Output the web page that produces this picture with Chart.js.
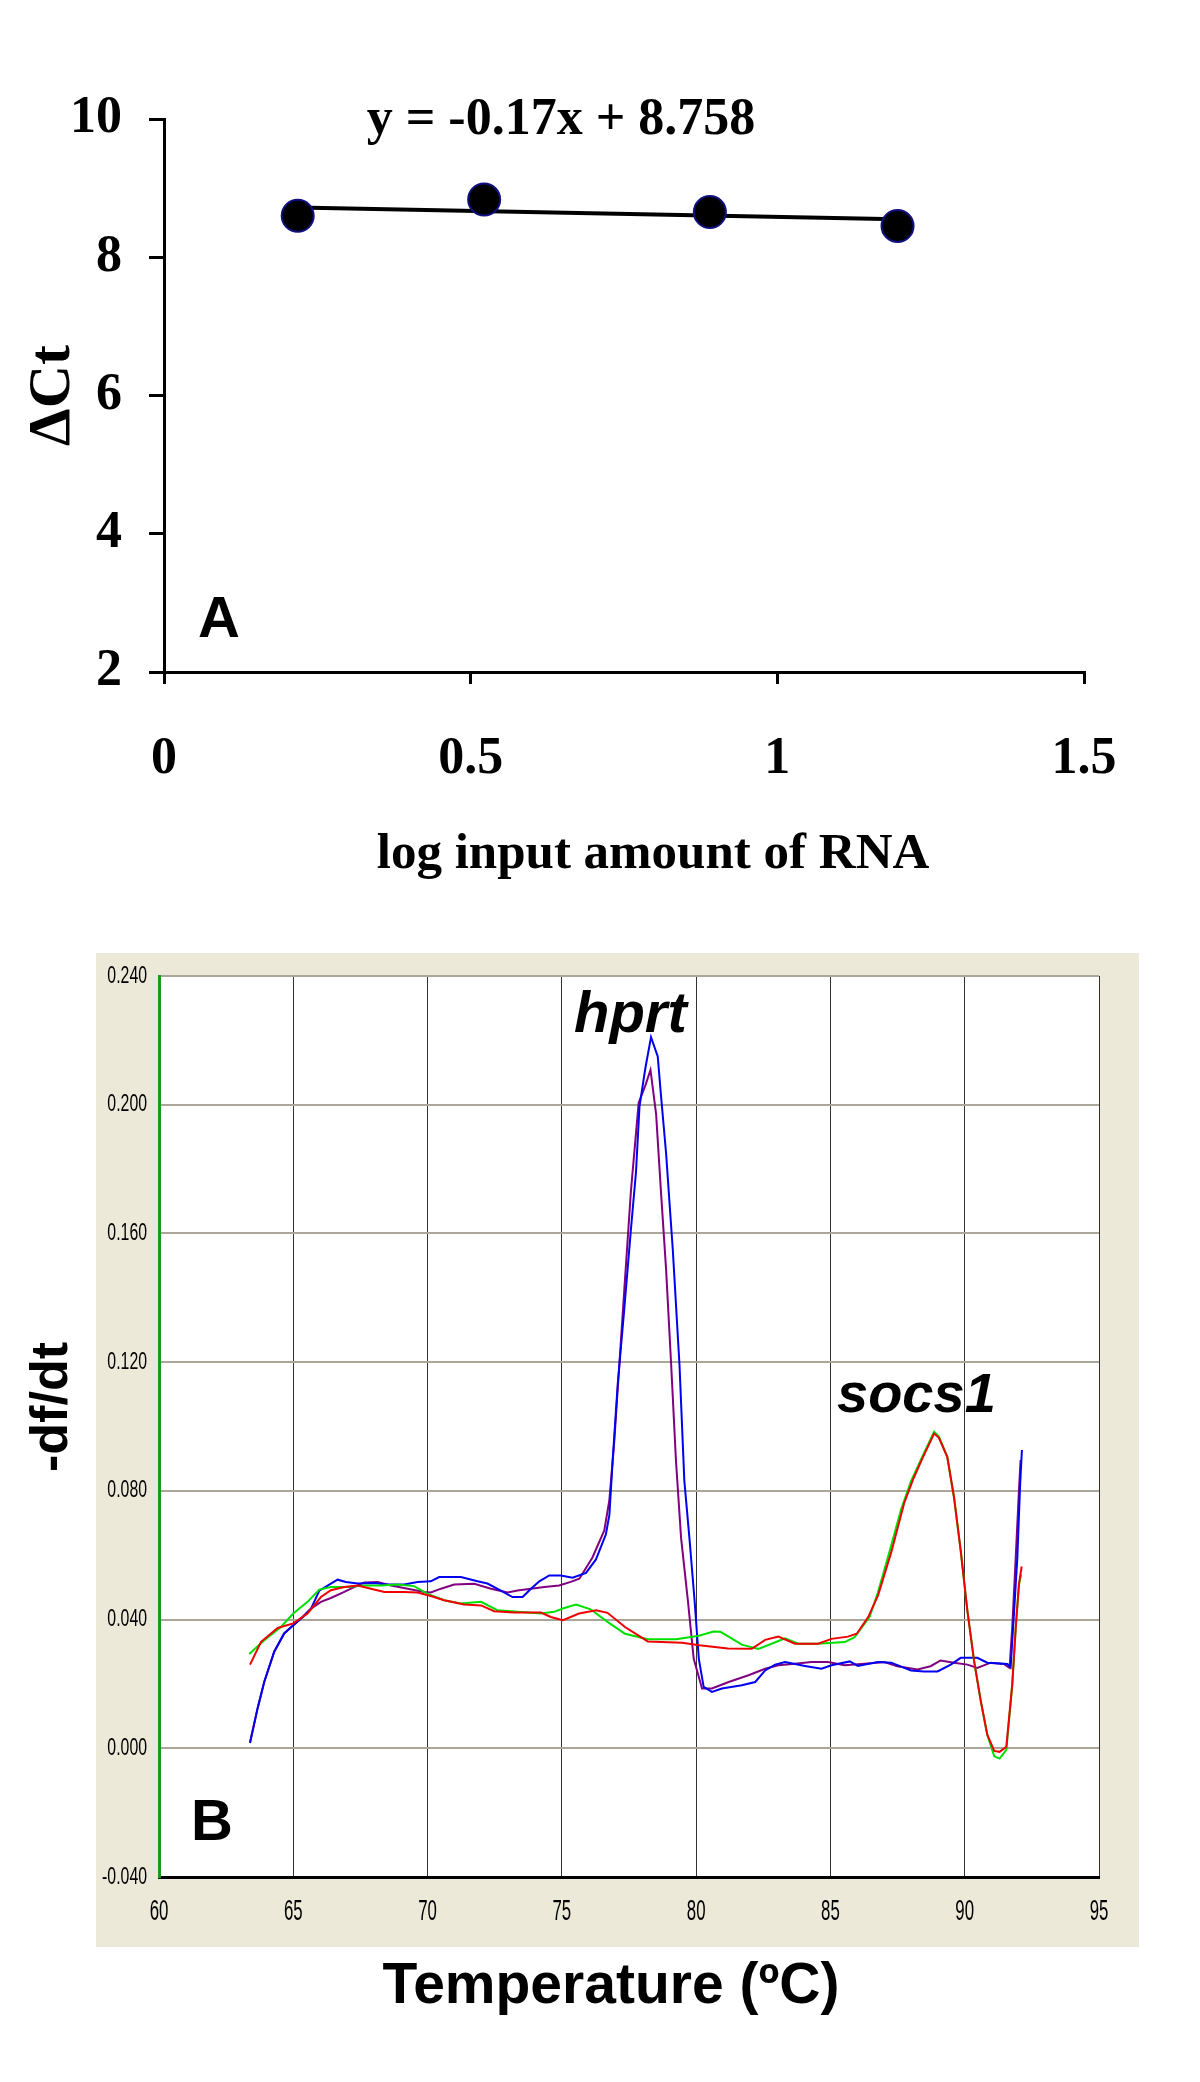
<!DOCTYPE html>
<html>
<head>
<meta charset="utf-8">
<title>ΔCt and melt curves</title>
<script src="https://cdn.jsdelivr.net/npm/chart.js@4.4.1/dist/chart.umd.min.js"></script>
<style>
  body { margin: 0; background: #fff; }
  #wrap { position: relative; width: 1200px; height: 2082px; }
  #chartA { position: absolute; left: 0; top: 0; }
  #chartB { position: absolute; left: 0; top: 940px; }
</style>
</head>
<body>
<div id="wrap">
  <canvas id="chartA" width="1200" height="920"></canvas>
  <canvas id="chartB" width="1200" height="1142"></canvas>
</div>
<script>
// panel A: delta Ct vs log input amount of RNA
const logInput = [0.218, 0.522, 0.890, 1.196];
const deltaCt = [8.60, 8.835, 8.654, 8.452];
const trendX = [0.218, 1.196];
const trendY = [8.72, 8.55];
const equationText = 'y = -0.17x + 8.758';

// panel B: melt curves, [temperature, -df/dt]
const hprtBlue = [
  [63.39, 0.0016], [63.67, 0.0124], [63.92, 0.0207], [64.29, 0.030], [64.66, 0.0357],
  [65.0, 0.0382], [65.35, 0.0408], [65.66, 0.0434], [65.97, 0.049], [66.4, 0.0512],
  [66.65, 0.0524], [66.96, 0.0517], [67.4, 0.0512], [68.0, 0.0514], [68.5, 0.0509],
  [69.13, 0.0509], [69.63, 0.0517], [70.12, 0.0519], [70.43, 0.0532], [71.24, 0.0532],
  [71.86, 0.0519], [72.23, 0.0512], [72.73, 0.049], [73.16, 0.047], [73.54, 0.047],
  [73.85, 0.0496], [74.16, 0.0519], [74.53, 0.0537], [74.96, 0.0537], [75.4, 0.053],
  [75.9, 0.0545], [76.27, 0.0587], [76.64, 0.0665], [76.77, 0.0725], [76.89, 0.0892],
  [77.08, 0.1132], [77.33, 0.1371], [77.57, 0.1611], [77.76, 0.179], [77.89, 0.1994],
  [78.11, 0.2114], [78.32, 0.221], [78.57, 0.215], [78.69, 0.203], [78.88, 0.185],
  [79.13, 0.155], [79.38, 0.1192], [79.56, 0.0832], [79.75, 0.0653], [79.94, 0.0461],
  [80.1, 0.0278], [80.28, 0.0191], [80.59, 0.0175], [80.96, 0.0186], [81.7, 0.0196],
  [82.2, 0.0206], [82.57, 0.0242], [82.94, 0.026], [83.31, 0.0268], [84.05, 0.0256],
  [84.67, 0.0247], [85.04, 0.0258], [85.72, 0.027], [86.02, 0.0256], [86.77, 0.0268],
  [87.26, 0.0266], [88.0, 0.0242], [88.49, 0.0239], [88.99, 0.0239], [89.48, 0.026],
  [89.85, 0.0281], [90.47, 0.0281], [90.84, 0.0266], [91.59, 0.0262], [91.71, 0.0252],
  [91.84, 0.0427], [91.96, 0.0594], [92.06, 0.0813], [92.13, 0.0927]
];
const hprtPurple = [
  [63.39, 0.002], [63.67, 0.0124], [63.92, 0.0207], [64.29, 0.030], [64.66, 0.0357],
  [65.0, 0.0382], [65.35, 0.0408], [65.66, 0.0434], [66.03, 0.0455], [66.4, 0.0467],
  [66.9, 0.0486], [67.4, 0.0506], [67.64, 0.0515], [68.14, 0.0517], [68.64, 0.0506],
  [69.26, 0.0496], [69.88, 0.0486], [70.12, 0.0484], [70.5, 0.0496], [70.99, 0.0509],
  [71.74, 0.0511], [72.36, 0.0496], [72.98, 0.0484], [73.35, 0.049], [73.85, 0.0496],
  [74.35, 0.0501], [74.9, 0.0506], [75.33, 0.0517], [75.65, 0.0527], [76.14, 0.0593],
  [76.58, 0.0677], [76.77, 0.0772], [76.95, 0.0952], [77.14, 0.1192], [77.33, 0.1431],
  [77.57, 0.173], [77.86, 0.2006], [78.11, 0.206], [78.3, 0.2108], [78.51, 0.197],
  [78.69, 0.173], [78.88, 0.149], [79.07, 0.1192], [79.25, 0.0892], [79.44, 0.0653],
  [79.69, 0.0461], [79.91, 0.0278], [80.22, 0.0186], [80.59, 0.0186], [81.21, 0.0206],
  [81.95, 0.0227], [82.57, 0.0247], [83.06, 0.0258], [83.68, 0.0263], [84.3, 0.0268],
  [84.91, 0.0268], [85.53, 0.0258], [86.27, 0.0263], [87.01, 0.0268], [87.49, 0.0255],
  [88.24, 0.0245], [88.73, 0.0255], [89.1, 0.0273], [89.6, 0.0266], [90.1, 0.026],
  [90.47, 0.025], [90.97, 0.0266], [91.46, 0.0262], [91.67, 0.025], [91.77, 0.0375],
  [91.9, 0.0594], [92.02, 0.0802], [92.08, 0.0896]
];
const socsGreen = [
  [63.36, 0.0293], [63.92, 0.0336], [64.54, 0.0377], [65.0, 0.0419], [65.53, 0.0455],
  [65.97, 0.0493], [66.4, 0.0501], [67.02, 0.0501], [67.64, 0.0506], [68.26, 0.0506],
  [68.88, 0.0509], [69.5, 0.0504], [70.0, 0.048], [70.62, 0.046], [71.24, 0.045],
  [71.99, 0.0455], [72.6, 0.0429], [73.35, 0.0424], [74.22, 0.0419], [74.71, 0.0424],
  [75.09, 0.0436], [75.53, 0.0447], [76.07, 0.0432], [76.7, 0.0393], [77.35, 0.0356],
  [78.2, 0.0339], [79.26, 0.0339], [80.1, 0.035], [80.65, 0.0363], [80.9, 0.0362],
  [81.21, 0.0347], [81.7, 0.0322], [82.32, 0.0309], [82.81, 0.0325], [83.31, 0.0342],
  [83.8, 0.0325], [84.54, 0.0325], [85.53, 0.033], [85.9, 0.0345], [86.46, 0.0409],
  [86.77, 0.0485], [87.26, 0.0629], [87.63, 0.0742], [87.99, 0.0828], [88.42, 0.0906],
  [88.86, 0.0984], [89.04, 0.0969], [89.35, 0.0906], [89.6, 0.0781], [89.85, 0.0615],
  [90.1, 0.0427], [90.35, 0.0271], [90.6, 0.0146], [90.84, 0.0042], [91.1, -0.0025],
  [91.3, -0.0032], [91.55, -0.0005], [91.77, 0.0198], [91.9, 0.0375], [92.02, 0.051],
  [92.1, 0.054]
];
const socsRed = [
  [63.39, 0.026], [63.8, 0.0331], [64.42, 0.0374], [65.0, 0.0388], [65.53, 0.0419],
  [66.03, 0.047], [66.4, 0.0491], [66.9, 0.0501], [67.4, 0.0506], [67.89, 0.0496],
  [68.39, 0.0486], [69.13, 0.0486], [69.63, 0.0484], [70.12, 0.0473], [70.62, 0.046],
  [71.36, 0.0447], [71.99, 0.0444], [72.48, 0.0426], [73.22, 0.0422], [74.22, 0.0422],
  [74.59, 0.0408], [75.04, 0.0398], [75.64, 0.0419], [76.28, 0.0429], [76.7, 0.0421],
  [77.35, 0.0377], [78.2, 0.0332], [79.48, 0.0328], [80.12, 0.032], [81.18, 0.031],
  [82.07, 0.0309], [82.57, 0.0337], [83.06, 0.0347], [83.68, 0.0325], [84.54, 0.0325],
  [85.04, 0.034], [85.65, 0.0347], [85.98, 0.0356], [86.4, 0.0407], [86.77, 0.0474],
  [87.26, 0.0608], [87.75, 0.0763], [88.1, 0.084], [88.42, 0.090], [88.86, 0.0978],
  [89.04, 0.0965], [89.35, 0.0906], [89.6, 0.0781], [89.85, 0.0615], [90.1, 0.0427],
  [90.35, 0.0271], [90.6, 0.0146], [90.84, 0.0042], [91.1, -0.0008], [91.3, -0.0011],
  [91.55, 0.0005], [91.77, 0.0198], [91.9, 0.0375], [92.02, 0.051], [92.12, 0.0565]
];

const serif = "'Liberation Serif', 'Times New Roman', serif";
const sans = "'Liberation Sans', Arial, sans-serif";

function toPoints(pairs) {
  return pairs.map(p => ({ x: p[0], y: p[1] }));
}

function meltLabel(v) {
  return Math.abs(v) < 1e-9 ? '0.000' : v.toFixed(3);
}

// free text on top of each panel (rot in radians)
const panelText = {
  id: 'panelText',
  afterDatasetsDraw(chart, args, opts) {
    const ctx = chart.ctx;
    opts.items.forEach(t => {
      ctx.save();
      ctx.font = t.font;
      ctx.fillStyle = '#000';
      ctx.textAlign = t.align || 'left';
      ctx.textBaseline = t.baseline || 'alphabetic';
      ctx.translate(t.x, t.y);
      if (t.rot) ctx.rotate(t.rot);
      ctx.fillText(t.text, 0, 0);
      ctx.restore();
    });
  }
};

// beige frame behind panel B
const frameBg = {
  id: 'frameBg',
  beforeDraw(chart) {
    const { ctx, chartArea } = chart;
    ctx.save();
    ctx.fillStyle = '#ece9d8';
    ctx.fillRect(96, 13, 1043, 994);
    ctx.fillStyle = '#ffffff';
    ctx.fillRect(chartArea.left, chartArea.top, chartArea.right - chartArea.left, chartArea.bottom - chartArea.top);
    ctx.restore();
  }
};

// the instrument software uses tall, narrow tick digits
const narrowTicks = {
  id: 'narrowTicks',
  afterDraw(chart) {
    const ctx = chart.ctx;
    const xs = chart.scales.x;
    const ys = chart.scales.y;
    ctx.save();
    ctx.fillStyle = '#000';
    ctx.font = '24px ' + sans;
    ctx.textAlign = 'right';
    ctx.textBaseline = 'middle';
    ys.ticks.forEach(t => {
      ctx.save();
      ctx.translate(147, ys.getPixelForValue(t.value));
      ctx.scale(0.66, 1);
      ctx.fillText(meltLabel(t.value), 0, 0);
      ctx.restore();
    });
    ctx.font = '29px ' + sans;
    ctx.textAlign = 'center';
    xs.ticks.forEach(t => {
      ctx.save();
      ctx.translate(xs.getPixelForValue(t.value), 972);
      ctx.scale(0.58, 1);
      ctx.fillText(String(t.value), 0, 0);
      ctx.restore();
    });
    ctx.restore();
  }
};

new Chart(document.getElementById('chartA'), {
  type: 'scatter',
  data: {
    datasets: [
      {
        label: 'delta Ct',
        data: logInput.map((x, i) => ({ x, y: deltaCt[i] })),
        pointRadius: 16,
        pointBackgroundColor: '#000',
        pointBorderColor: '#101080',
        pointBorderWidth: 2,
        order: 1
      },
      {
        label: 'trend',
        data: trendX.map((x, i) => ({ x, y: trendY[i] })),
        showLine: true,
        borderColor: '#000',
        borderWidth: 4,
        pointRadius: 0,
        order: 2
      }
    ]
  },
  options: {
    responsive: false,
    devicePixelRatio: 1,
    animation: false,
    layout: { padding: { top: 119, right: 116, left: 0, bottom: 0 } },
    plugins: {
      legend: { display: false },
      tooltip: { enabled: false },
      panelText: {
        items: [
          { text: equationText, x: 561, y: 134, align: 'center', font: 'bold 52px ' + serif },
          { text: 'A', x: 219, y: 621, align: 'center', baseline: 'middle', font: 'bold 58px ' + sans },
          { text: 'log input amount of RNA', x: 653, y: 855, align: 'center', baseline: 'middle', font: 'bold 51px ' + serif }
        ]
      }
    },
    scales: {
      x: {
        type: 'linear',
        min: 0,
        max: 1.5,
        afterFit: s => { s.height = 248; },
        ticks: {
          stepSize: 0.5,
          color: '#000',
          padding: 44,
          font: { family: serif, size: 52, weight: 'bold' },
          callback: v => String(v)
        },
        grid: { drawOnChartArea: false, drawTicks: true, tickLength: 12, lineWidth: 3, color: '#000' },
        border: { display: true, color: '#000', width: 3 }
      },
      y: {
        type: 'linear',
        min: 2,
        max: 10,
        afterFit: s => { s.width = 164; },
        ticks: {
          stepSize: 2,
          color: '#000',
          padding: 27,
          font: { family: serif, size: 52, weight: 'bold' }
        },
        grid: { drawOnChartArea: false, drawTicks: true, tickLength: 15, lineWidth: 3, color: '#000' },
        border: { display: true, color: '#000', width: 3 },
        title: {
          display: true,
          text: '\u0394Ct',
          color: '#000',
          font: { family: serif, size: 60, weight: 'bold' },
          padding: { top: 17, bottom: 0 }
        }
      }
    }
  },
  plugins: [panelText]
});

const curves = [
  { name: 'socs1 a', pts: socsRed, color: '#f00000' },
  { name: 'socs1 b', pts: socsGreen, color: '#00e000' },
  { name: 'hprt a', pts: hprtBlue, color: '#0000f0' },
  { name: 'hprt b', pts: hprtPurple, color: '#800080' }
];

new Chart(document.getElementById('chartB'), {
  type: 'line',
  data: {
    datasets: curves.map(c => ({
      label: c.name,
      data: toPoints(c.pts),
      borderColor: c.color,
      borderWidth: 2,
      pointRadius: 0,
      tension: 0,
      fill: false
    }))
  },
  options: {
    responsive: false,
    devicePixelRatio: 1,
    animation: false,
    layout: { padding: { top: 36, right: 101, left: 0, bottom: 0 } },
    plugins: {
      legend: { display: false },
      tooltip: { enabled: false },
      panelText: {
        items: [
          { text: 'hprt', x: 574, y: 92, font: 'italic bold 58px ' + sans },
          { text: 'socs1', x: 837, y: 472, font: 'italic bold 56px ' + sans },
          { text: 'B', x: 212, y: 884, align: 'center', baseline: 'middle', font: 'bold 58px ' + sans },
          { text: 'Temperature (ºC)', x: 611, y: 1047, align: 'center', baseline: 'middle', font: 'bold 57px ' + sans },
          { text: '-df/dt', x: 53, y: 467, align: 'center', baseline: 'middle', rot: -Math.PI / 2, font: 'bold 52px ' + sans }
        ]
      }
    },
    scales: {
      x: {
        type: 'linear',
        min: 60,
        max: 95,
        afterFit: s => { s.height = 205; },
        ticks: { stepSize: 5, display: false },
        grid: {
          drawTicks: false,
          lineWidth: 1,
          color: ctx => ctx.index === 0 ? 'rgba(0,0,0,0)' : '#333333'
        },
        border: { display: true, color: '#000', width: 3 }
      },
      y: {
        type: 'linear',
        min: -0.04,
        max: 0.24,
        afterFit: s => { s.width = 159; },
        ticks: { stepSize: 0.04, display: false },
        grid: {
          drawTicks: false,
          lineWidth: 2,
          color: ctx => ctx.index === 0 ? 'rgba(0,0,0,0)' : '#aaa699'
        },
        border: { display: true, color: '#1a9a1a', width: 3 }
      }
    }
  },
  plugins: [frameBg, panelText, narrowTicks]
});
</script>
</body>
</html>
